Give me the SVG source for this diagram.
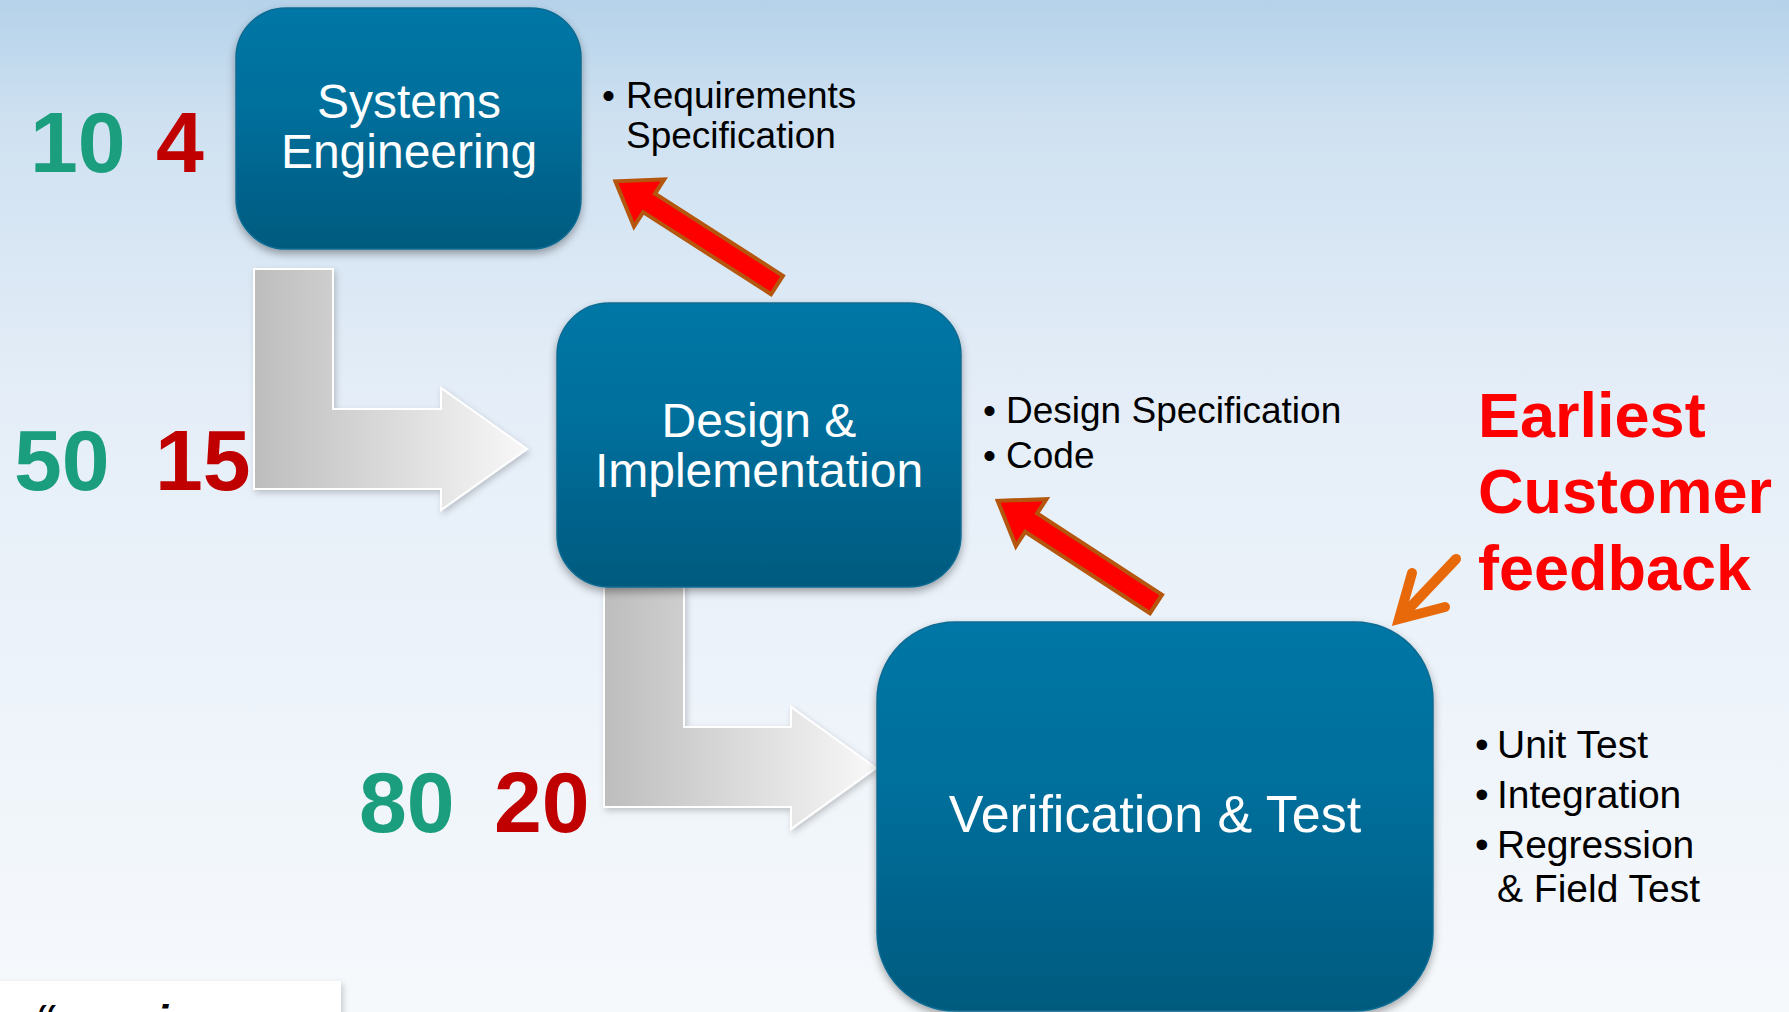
<svg xmlns="http://www.w3.org/2000/svg" width="1789" height="1012" viewBox="0 0 1789 1012">
<defs>
<linearGradient id="bg" x1="0" y1="0" x2="0" y2="1">
<stop offset="0" stop-color="#b5d2ea"/>
<stop offset="0.12" stop-color="#cfe1f1"/>
<stop offset="0.4" stop-color="#e5eef8"/>
<stop offset="1" stop-color="#f6f9fc"/>
</linearGradient>
<linearGradient id="box" x1="0" y1="0" x2="0" y2="1">
<stop offset="0" stop-color="#0077a6"/>
<stop offset="0.45" stop-color="#006e9b"/>
<stop offset="1" stop-color="#005a7e"/>
</linearGradient>
<linearGradient id="g1" gradientUnits="userSpaceOnUse" x1="254" y1="0" x2="527" y2="0">
<stop offset="0" stop-color="#bdbdbd"/>
<stop offset="1" stop-color="#f8f8f8"/>
</linearGradient>
<linearGradient id="g2" gradientUnits="userSpaceOnUse" x1="604" y1="0" x2="876" y2="0">
<stop offset="0" stop-color="#bdbdbd"/>
<stop offset="1" stop-color="#f8f8f8"/>
</linearGradient>
<filter id="sh" x="-10%" y="-10%" width="120%" height="130%">
<feDropShadow dx="0" dy="4" stdDeviation="4" flood-color="#000" flood-opacity="0.35"/>
</filter>
<filter id="sh2" x="-10%" y="-10%" width="120%" height="130%">
<feDropShadow dx="2" dy="3" stdDeviation="3" flood-color="#000" flood-opacity="0.2"/>
</filter>
</defs>
<style>
.box{fill:url(#box);stroke:#0b6b92;stroke-width:1.5;filter:url(#sh)}
.bt{font-family:"Liberation Sans",Arial,sans-serif;fill:#fff;text-anchor:middle}
.num{font-family:"Liberation Sans",Arial,sans-serif;font-weight:bold;font-size:86px}
.g{fill:#1b9e7d}
.r{fill:#c00000}
.bl{font-family:"Liberation Sans",Arial,sans-serif;fill:#000}
.red{fill:#ff0000;stroke:#b4560e;stroke-width:4;stroke-linejoin:miter}
.gray{stroke:#ffffff;stroke-width:2;filter:url(#sh2)}
.fb{font-family:"Liberation Sans",Arial,sans-serif;font-weight:bold;font-size:63px;fill:#ff0000}
</style>
<rect x="0" y="0" width="1789" height="1012" fill="url(#bg)"/>

<g id="connectors">
<path class="gray" fill="url(#g1)" d="M254,269 L333,269 L333,409 L441,409 L441,388 L527,449 L441,510 L441,489 L254,489 Z"/>
<path class="gray" fill="url(#g2)" d="M604,560 L684,560 L684,727 L791,727 L791,707 L876,768 L791,829 L791,807 L604,807 Z"/>
<polygon class="red" transform="translate(777,285) rotate(212.7)" points="0,-11 152,-11 152,-28 192,0 152,28 152,11 0,11"/>
<polygon class="red" transform="translate(1156,604) rotate(213.1)" points="0,-11 149,-11 149,-28 189,0 149,28 149,11 0,11"/>
<g fill="none" stroke="#e8690a" stroke-width="10" stroke-linecap="round" stroke-linejoin="miter">
<line x1="1456" y1="559" x2="1402" y2="616"/>
<polyline points="1412,573 1399,619 1445,607"/>
</g>
</g>

<g id="node-systems">
<rect class="box" x="236" y="8" width="345" height="241" rx="50" ry="50"/>
<text class="bt" font-size="48" x="409" y="118">Systems</text>
<text class="bt" font-size="48" x="409" y="168">Engineering</text>
</g>

<g id="node-design">
<rect class="box" x="557" y="303" width="404" height="284" rx="52" ry="52"/>
<text class="bt" font-size="48" x="759" y="437">Design &amp;</text>
<text class="bt" font-size="48" x="759" y="487">Implementation</text>
</g>

<g id="node-verification">
<rect class="box" x="877" y="622" width="556" height="389" rx="78" ry="78"/>
<text class="bt" font-size="52" x="1155" y="832">Verification &amp; Test</text>
</g>

<g id="numbers">
<text class="num g" x="30" y="172">10</text>
<text class="num r" x="156" y="172">4</text>
<text class="num g" x="14" y="490">50</text>
<text class="num r" x="155" y="490">15</text>
<text class="num g" x="359" y="832">80</text>
<text class="num r" x="494" y="832">20</text>
</g>

<g id="notes-systems" class="bl" font-size="37">
<text x="602" y="108">•</text>
<text x="626" y="108">Requirements</text>
<text x="626" y="148">Specification</text>
</g>

<g id="notes-design" class="bl" font-size="37">
<text x="983" y="423">•</text>
<text x="1006" y="423">Design Specification</text>
<text x="983" y="468">•</text>
<text x="1006" y="468">Code</text>
</g>

<g id="notes-verification" class="bl" font-size="39">
<text x="1475" y="758">•</text>
<text x="1497" y="758">Unit Test</text>
<text x="1475" y="808">•</text>
<text x="1497" y="808">Integration</text>
<text x="1475" y="858">•</text>
<text x="1497" y="858">Regression</text>
<text x="1497" y="902">&amp; Field Test</text>
</g>

<g id="feedback">
<text class="fb" x="1478" y="437">Earliest</text>
<text class="fb" x="1478" y="513">Customer</text>
<text class="fb" x="1478" y="590">feedback</text>
</g>

<g id="bottom-card">
<rect x="-5" y="981" width="346" height="40" fill="#ffffff" filter="url(#sh2)"/>
<text font-family="'Liberation Sans',Arial,sans-serif" font-weight="bold" font-style="italic" font-size="44" fill="#000"><tspan x="34" y="1036">“</tspan><tspan x="156" y="1036">i</tspan></text>
</g>
</svg>
